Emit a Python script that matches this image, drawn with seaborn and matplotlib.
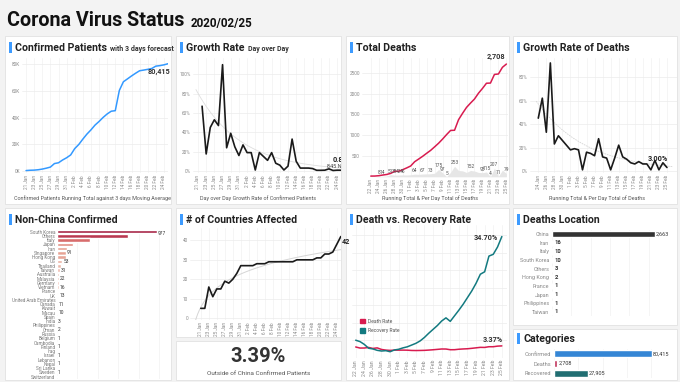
import numpy as np
import pandas as pd
import matplotlib
matplotlib.use('Agg')
import matplotlib.pyplot as plt
from matplotlib.patches import Rectangle, Patch
from matplotlib.colors import LinearSegmentedColormap
import seaborn as sns

# ---------------- data ----------------
conf_dates = pd.date_range('2020-01-21', '2020-02-25')   # 21 Jan .. 25 Feb
confirmed = [332, 555, 653, 941, 1438, 2118, 2927, 5578, 6165, 8235, 9925, 12038,
             16787, 19881, 23892, 27636, 30818, 34392, 37121, 40151, 42763, 44803,
             45222, 60370, 66887, 69032, 71226, 73260, 75138, 75641, 76199, 76843,
             78599, 78985, 79570, 80415]

# day over day growth, 22 Jan .. 25 Feb (%)
growth = [67, 17.6, 45, 53, 47, 110, 24, 39, 25, 16, 27, 19, 19, 1, 19, 15, 11, 19,
          8, 6, 1, 5, 33, 10, 3, 3, 3, 2.5, 0.7, 0.7, 0.8, 2.2, 0.5, 0.8, 0.8]
new_cases = 845

# deaths, 22 Jan .. 25 Feb
death_dates = pd.date_range('2020-01-22', '2020-02-25')
deaths_total = [17, 18, 26, 42, 56, 82, 131, 133, 171, 213, 259, 362, 426, 492, 564,
                634, 719, 806, 906, 1013, 1113, 1118, 1371, 1523, 1666, 1770, 1868,
                2007, 2122, 2247, 2251, 2458, 2469, 2629, 2708]
deaths_daily = [0, 1, 8, 14, 16, 51, 38, 42, 46, 43, 49, 64, 58, 67, 70, 73, 86, 175,
                97, 5, 108, 253, 150, 143, 104, 152, 139, 104, 98, 115, 4, 207, 11, 160, 79]
daily_label_idx = [2, 3, 5, 6, 7, 8, 11, 13, 15, 17, 18, 19, 21, 25, 28, 29, 30, 31, 32, 34]

# growth rate of deaths, 24 Jan .. 25 Feb (%)
dgrowth_dates = pd.date_range('2020-01-24', '2020-02-25')
death_growth = [45, 62, 33, 92, 23, 30, 26, 22, 18, 19, 18, 1, 16, 15, 13, 27.5, 12,
                11, 1, 11, 22, 12, 10, 7, 6, 8, 6, 6, 1, 9, 1, 7, 3]

# countries affected, 21 Jan .. 25 Feb
n_countries = [5, 5, 16, 11, 15, 15, 19, 18, 20, 23, 27, 27, 27, 27, 28, 28, 28, 29,
               29, 29, 29, 29, 29, 29, 30, 30, 30, 30, 30, 31, 31, 33, 33, 34, 38, 42]

outside_share = 3.39

# death / recovery rate, 22 Jan .. 25 Feb (%)
death_rate = [3.06, 2.75, 2.76, 2.92, 2.64, 2.80, 2.35, 2.16, 2.08, 2.15, 2.15, 2.16,
              2.14, 2.06, 2.04, 2.06, 2.09, 2.17, 2.26, 2.37, 2.48, 2.47, 2.27, 2.28,
              2.41, 2.49, 2.55, 2.67, 2.81, 2.95, 2.93, 3.13, 3.13, 3.30, 3.37]
recovery_rate = [5.0, 4.6, 3.8, 2.7, 2.5, 2.1, 1.9, 2.0, 1.7, 2.2, 2.4, 2.8, 3.1, 3.6,
                 4.1, 4.8, 5.8, 7.0, 8.1, 9.2, 10.5, 11.4, 10.4, 12.0, 13.6, 15.3, 17.2,
                 19.1, 21.3, 23.9, 24.6, 29.1, 29.6, 31.7, 34.7]

nc_names = ['South Korea', 'Others', 'Italy', 'Japan', 'Iran', 'Singapore', 'Hong Kong',
            'US', 'Thailand', 'Taiwan', 'Australia', 'Malaysia', 'Germany', 'Vietnam',
            'France', 'UK', 'United Arab Emirates', 'Canada', 'Kuwait', 'Macau', 'Spain',
            'India', 'Philippines', 'Oman', 'Russia', 'Belgium', 'Cambodia', 'Finland',
            'Iraq', 'Israel', 'Lebanon', 'Nepal', 'Sri Lanka', 'Sweden', 'Switzerland']
nc_values = [977, 691, 322, 160, 95, 91, 85, 53, 37, 31, 23, 22, 16, 16, 13, 13, 13, 11,
             11, 10, 3, 3, 3, 2, 2, 1, 1, 1, 1, 1, 1, 1, 1, 1, 1]
nc_label_idx = [0] + list(range(5, 35, 2))

loc_names = ['China', 'Iran', 'Italy', 'South Korea', 'Others', 'Hong Kong', 'France',
             'Japan', 'Philippines', 'Taiwan']
loc_values = [2663, 16, 10, 10, 3, 2, 1, 1, 1, 1]

cat_names = ['Confirmed', 'Deaths', 'Recovered']
cat_values = [80415, 2708, 27905]

# ---------------- style ----------------
sns.set_theme(style='white')
plt.rcParams['font.family'] = ['Roboto', 'DejaVu Sans']

W, H = 680, 382
fig = plt.figure(figsize=(6.8, 3.82), dpi=100)
fig.patch.set_facecolor('#f3f3f3')

RED = '#d81b4f'
TEAL = '#137a80'
BLUE = '#1a86f0'
ACCENT = '#3d9bff'
DARK = '#222222'


def px_axes(x0, y0, x1, y1):
    return fig.add_axes([x0 / W, 1 - y1 / H, (x1 - x0) / W, (y1 - y0) / H])


def panel(x0, y0, x1, y1):
    fig.add_artist(Rectangle((x0 / W, 1 - y1 / H), (x1 - x0) / W, (y1 - y0) / H,
                             transform=fig.transFigure, fc='white', ec='#e2e2e2',
                             lw=0.6, zorder=0))


def text_width(t):
    r = fig.canvas.get_renderer()
    return t.get_window_extent(renderer=r).width


def title(x, yc, main, sub=None):
    fig.add_artist(Rectangle(((x - 6) / W, 1 - (yc + 5.5) / H), 3 / W, 11 / H,
                             transform=fig.transFigure, fc=ACCENT, ec='none'))
    t = fig.text(x / W, 1 - (yc + 3.6) / H, main, fontsize=7.6, weight='bold',
                 color=DARK, va='baseline')
    if sub:
        w = text_width(t)
        fig.text((x + w + 3) / W, 1 - (yc + 3.6) / H, sub, fontsize=5.0,
                 weight='bold', color='#333333', va='baseline')


def caption(xc, y, s):
    fig.text(xc / W, 1 - y / H, s, fontsize=3.9, color='#555555', ha='center', va='center')


def style_ax(ax, xgrid=True):
    ax.set_facecolor('none')
    for s in ax.spines.values():
        s.set_visible(False)
    ax.grid(True, axis='y', color='#ececec', lw=0.5)
    if xgrid:
        ax.grid(True, axis='x', color='#f1f1f1', lw=0.5)
    ax.tick_params(length=0, labelsize=3.4, colors='#8a8a8a', pad=1.5)
    ax.set_xlabel('')
    ax.set_ylabel('')


def date_ticks(ax, dates, step=2, rotation=90, size=3.4):
    idx = list(range(0, len(dates), step))
    ax.set_xticks(idx)
    ax.set_xticklabels([f"{dates[i].day} {dates[i].strftime('%b')}" for i in idx],
                       rotation=rotation, fontsize=size)


# ---------------- header ----------------
t = fig.text(7 / W, 1 - 26.5 / H, 'Corona Virus Status', fontsize=14.2, weight='bold',
             color='#111111', va='baseline')
fig.text((7 + text_width(t) + 6) / W, 1 - 26.5 / H, '2020/02/25', fontsize=8.4,
         weight='bold', color='#111111', va='baseline')

# panels
for box in [(5, 36, 171, 204), (176, 36, 341, 204), (346, 36, 509, 204),
            (513, 36, 677, 204), (5, 208, 171, 380), (176, 208, 341, 337),
            (176, 341, 341, 380), (346, 208, 509, 380), (513, 208, 677, 325),
            (513, 329, 677, 380)]:
    panel(*box)

# ---------------- confirmed ----------------
ax = px_axes(22, 58, 168, 173)
df = pd.DataFrame({'d': range(len(confirmed)), 'v': confirmed})
sns.lineplot(data=df, x='d', y='v', ax=ax, color='#3399ff', lw=1.1)
style_ax(ax)
ax.set_xlim(-1, 35)
ax.set_ylim(-1500, 84700)
ax.set_yticks([0, 20000, 40000, 60000, 80000])
ax.set_yticklabels(['0K', '20K', '40K', '60K', '80K'])
date_ticks(ax, conf_dates)
ax.annotate(f"{confirmed[-1]:,}", (len(confirmed) - 1, confirmed[-1]), xytext=(2, -3),
            textcoords='offset points', ha='right', va='top', fontsize=5.2,
            weight='bold', color='#333333')
title(15, 47, 'Confirmed Patients', 'with 3 days forecast')
caption(92, 198.5, 'Confirmed Patients Running Total against 3 days Moving Average')

# ---------------- growth rate ----------------
ax = px_axes(193, 58, 341, 173)
gd = np.arange(1, len(growth) + 1)
df = pd.DataFrame({'d': gd, 'v': growth})
coef = np.polyfit(gd, np.log(growth), 1, w=np.sqrt(growth))
tx = np.linspace(-0.5, 35, 100)
ax.plot(tx, np.exp(np.polyval(coef, tx)), color='#dedede', lw=0.6, zorder=1)
sns.lineplot(data=df, x='d', y='v', ax=ax, color='#1a1a1a', lw=1.2, zorder=3)
style_ax(ax)
ax.set_xlim(-1.22, 34.95)
ax.set_ylim(-2.1, 116.9)
ax.set_yticks([0, 20, 40, 60, 80, 100])
ax.set_yticklabels([f'{v}%' for v in [0, 20, 40, 60, 80, 100]])
date_ticks(ax, conf_dates)
ax.text(32.9, 11, f'{growth[-1]}%', fontsize=5.2, weight='bold', color='#222222',
        ha='left', va='center', clip_on=True)
ax.text(31.6, 4.8, f'{new_cases} New', fontsize=4.0, color='#444444',
        ha='left', va='center', clip_on=True)
title(186, 47, 'Growth Rate', 'Day over Day')
caption(258, 198.5, 'Day over Day Growth Rate of Confirmed Patients')

# ---------------- total deaths ----------------
ax = px_axes(362, 58, 508, 177)
dd = np.arange(len(deaths_total))
ax.fill_between(dd, deaths_daily, color='#e6e6e6', lw=0, zorder=1)
df = pd.DataFrame({'d': dd, 'v': deaths_total})
sns.lineplot(data=df, x='d', y='v', ax=ax, color=RED, lw=1.1, zorder=3)
for i in daily_label_idx:
    ax.text(i, deaths_daily[i] + 25, str(deaths_daily[i]), fontsize=3.5, color='#555555',
            ha='center', va='bottom', zorder=4)
style_ax(ax)
ax.set_xlim(-2.2, 34.4)
ax.set_ylim(-5, 2853)
ax.set_yticks([500, 1000, 1500, 2000, 2500])
date_ticks(ax, death_dates)
ax.annotate(f"{deaths_total[-1]:,}", (len(deaths_total) - 1, deaths_total[-1]),
            xytext=(-1, 2), textcoords='offset points', ha='right', va='bottom',
            fontsize=5.2, weight='bold', color='#333333')
title(356, 47, 'Total Deaths')
caption(430, 198.5, 'Running Total & Per Day Total of Deaths')

# ---------------- growth rate of deaths ----------------
ax = px_axes(530, 58, 677, 173)
gd = np.arange(len(death_growth))
coef = np.polyfit(gd, np.log(death_growth), 1, w=np.sqrt(death_growth))
tx = np.linspace(-0.5, 33.5, 100)
ax.plot(tx, np.exp(np.polyval(coef, tx)), color='#d5d5d5', lw=0.6, ls=(0, (2, 1)), zorder=1)
df = pd.DataFrame({'d': gd, 'v': death_growth})
sns.lineplot(data=df, x='d', y='v', ax=ax, color='#1a1a1a', lw=1.2, zorder=3)
style_ax(ax)
ax.set_xlim(-2.06, 34.5)
ax.set_ylim(-1.7, 96.2)
ax.set_yticks([0, 20, 40, 60, 80])
ax.set_yticklabels([f'{v}%' for v in [0, 20, 40, 60, 80]])
date_ticks(ax, dgrowth_dates)
ax.text(32.3, 10, f'{death_growth[-1]:.2f}%', fontsize=5.2, weight='bold',
        color='#222222', ha='right', va='center')
title(523, 47, 'Growth Rate of Deaths')
caption(597, 198.5, 'Running Total & Per Day Total of Deaths')

# ---------------- non-China confirmed ----------------
ax = px_axes(57, 229.5, 165, 378.8)
cmap = LinearSegmentedColormap.from_list('nc', ['#fcd3c8', '#f6a792', '#ef6e62', '#dc2f49', '#bb0f3b'])
norm = np.sqrt(np.array(nc_values) / max(nc_values))
pal = {n: cmap(v) for n, v in zip(nc_names, norm)}
sns.barplot(x=nc_values, y=nc_names, hue=nc_names, palette=pal, legend=False,
            orient='h', width=0.82, ax=ax)
style_ax(ax)
ax.grid(False, axis='y')
ax.set_xlim(0, 1055)
ax.set_ylim(len(nc_names) - 0.5, -0.5)
ax.set_xticks([0, 200, 400, 600, 800, 1000])
ax.set_xticklabels([])
ax.tick_params(axis='y', labelsize=3.3, colors='#777777', pad=1.2)
for i in nc_label_idx:
    ax.text(nc_values[i] + 8, i + (0.35 if i == 0 else 0), str(nc_values[i]), fontsize=3.5,
            color='#333333', ha='left', va='center')
title(15, 219.5, 'Non-China Confirmed')

# ---------------- countries affected ----------------
ax = px_axes(190, 228, 341, 320)
cd = np.arange(len(n_countries))
coef = np.polyfit(np.log(cd + 3), n_countries, 1)
tx = np.linspace(-2.3, 36, 100)
ax.plot(tx, np.polyval(coef, np.log(tx + 3)), color='#d5d5d5', lw=0.7, zorder=1)
df = pd.DataFrame({'d': cd, 'v': n_countries})
sns.lineplot(data=df, x='d', y='v', ax=ax, color='#1a1a1a', lw=1.2, zorder=3)
style_ax(ax)
ax.set_xlim(-2.7, 35.05)
ax.set_ylim(-1, 46.4)
ax.set_yticks([0, 10, 20, 30, 40])
date_ticks(ax, conf_dates)
ax.text(35.3, n_countries[-1] - 3, str(n_countries[-1]), fontsize=5.2, weight='bold',
        color='#222222', ha='left', va='center', clip_on=False)
title(186, 219.5, '# of Countries Affected')

# ---------------- outside China share ----------------
fig.text(258.5 / W, 1 - 356 / H, f'{outside_share:.2f}%', fontsize=14.5, weight='bold',
         color='#333333', ha='center', va='center')
fig.text(258.5 / W, 1 - 373.5 / H, 'Outside of China Confirmed Patients', fontsize=4.6,
         color='#555555', ha='center', va='center')

# ---------------- death vs recovery ----------------
ax = px_axes(352, 225, 507, 358)
rd = np.arange(len(death_rate))
df = pd.DataFrame({'d': np.concatenate([rd, rd]),
                   'v': death_rate + recovery_rate,
                   's': ['Death Rate'] * len(rd) + ['Recovery Rate'] * len(rd)})
sns.lineplot(data=df, x='d', y='v', hue='s', palette={'Death Rate': RED, 'Recovery Rate': TEAL},
             ax=ax, lw=1.1, legend=False)
style_ax(ax)
ax.set_xlim(-0.86, 35.2)
ax.set_ylim(-0.1, 38)
ax.set_yticks([0, 5, 10, 15, 20, 25, 30, 35])
ax.set_yticklabels([])
date_ticks(ax, death_dates, size=3.7)
ax.legend(handles=[Patch(color=RED, label='Death Rate'), Patch(color=TEAL, label='Recovery Rate')],
          loc='upper left', bbox_to_anchor=(0.02, 0.33), frameon=False, fontsize=3.6,
          handlelength=1.1, handleheight=1.1, labelspacing=0.9, handletextpad=0.6,
          labelcolor='#555555')
ax.text(33.2, recovery_rate[-1] - 0.4, f'{recovery_rate[-1]:.2f}%', fontsize=5.2,
        weight='bold', color='#333333', ha='right', va='center')
ax.text(34.3, death_rate[-1] + 1.7, f'{death_rate[-1]:.2f}%', fontsize=5.2,
        weight='bold', color='#333333', ha='right', va='center')
title(356, 219.5, 'Death vs. Recovery Rate')

# ---------------- deaths location ----------------
ax = px_axes(552, 230, 668, 316)
sns.barplot(x=loc_values, y=loc_names, color='#333333', orient='h', width=0.72, ax=ax)
style_ax(ax)
ax.grid(False, axis='y')
ax.set_xlim(0, 2663 * 116 / 103)
ax.set_ylim(len(loc_names) - 0.5, -0.5)
ax.set_xticks([0, 500, 1000, 1500, 2000, 2500])
ax.set_xticklabels([])
ax.tick_params(axis='y', labelsize=3.9, colors='#888888', pad=2)
for i, v in enumerate(loc_values):
    if i == 0:
        ax.text(v + 25, i, f'{v:,}', fontsize=3.9, color='#333333', ha='left', va='center')
    else:
        ax.text(v + 60, i, f'{v:,}', fontsize=4.2, color='#333333', ha='left', va='center',
                weight='bold')
title(523, 219.5, 'Deaths Location')

# ---------------- categories ----------------
ax = px_axes(554, 349, 668, 378)
sns.barplot(x=cat_values, y=cat_names, hue=cat_names,
            palette={'Confirmed': BLUE, 'Deaths': RED, 'Recovered': TEAL},
            legend=False, orient='h', width=0.72, ax=ax)
style_ax(ax)
ax.grid(False, axis='y')
ax.set_xlim(0, 80415 * 114 / 98)
ax.set_ylim(len(cat_names) - 0.5, -0.5)
ax.set_xticks([0, 20000, 40000, 60000, 80000])
ax.set_xticklabels([])
ax.tick_params(axis='y', labelsize=4.1, colors='#888888', pad=2)
for i, v in enumerate(cat_values):
    ax.text(v + 800, i, f'{v:,}', fontsize=4.0, color='#333333', ha='left', va='center')
title(523, 338, 'Categories')

fig.savefig('out.png', dpi=100, facecolor=fig.get_facecolor())
